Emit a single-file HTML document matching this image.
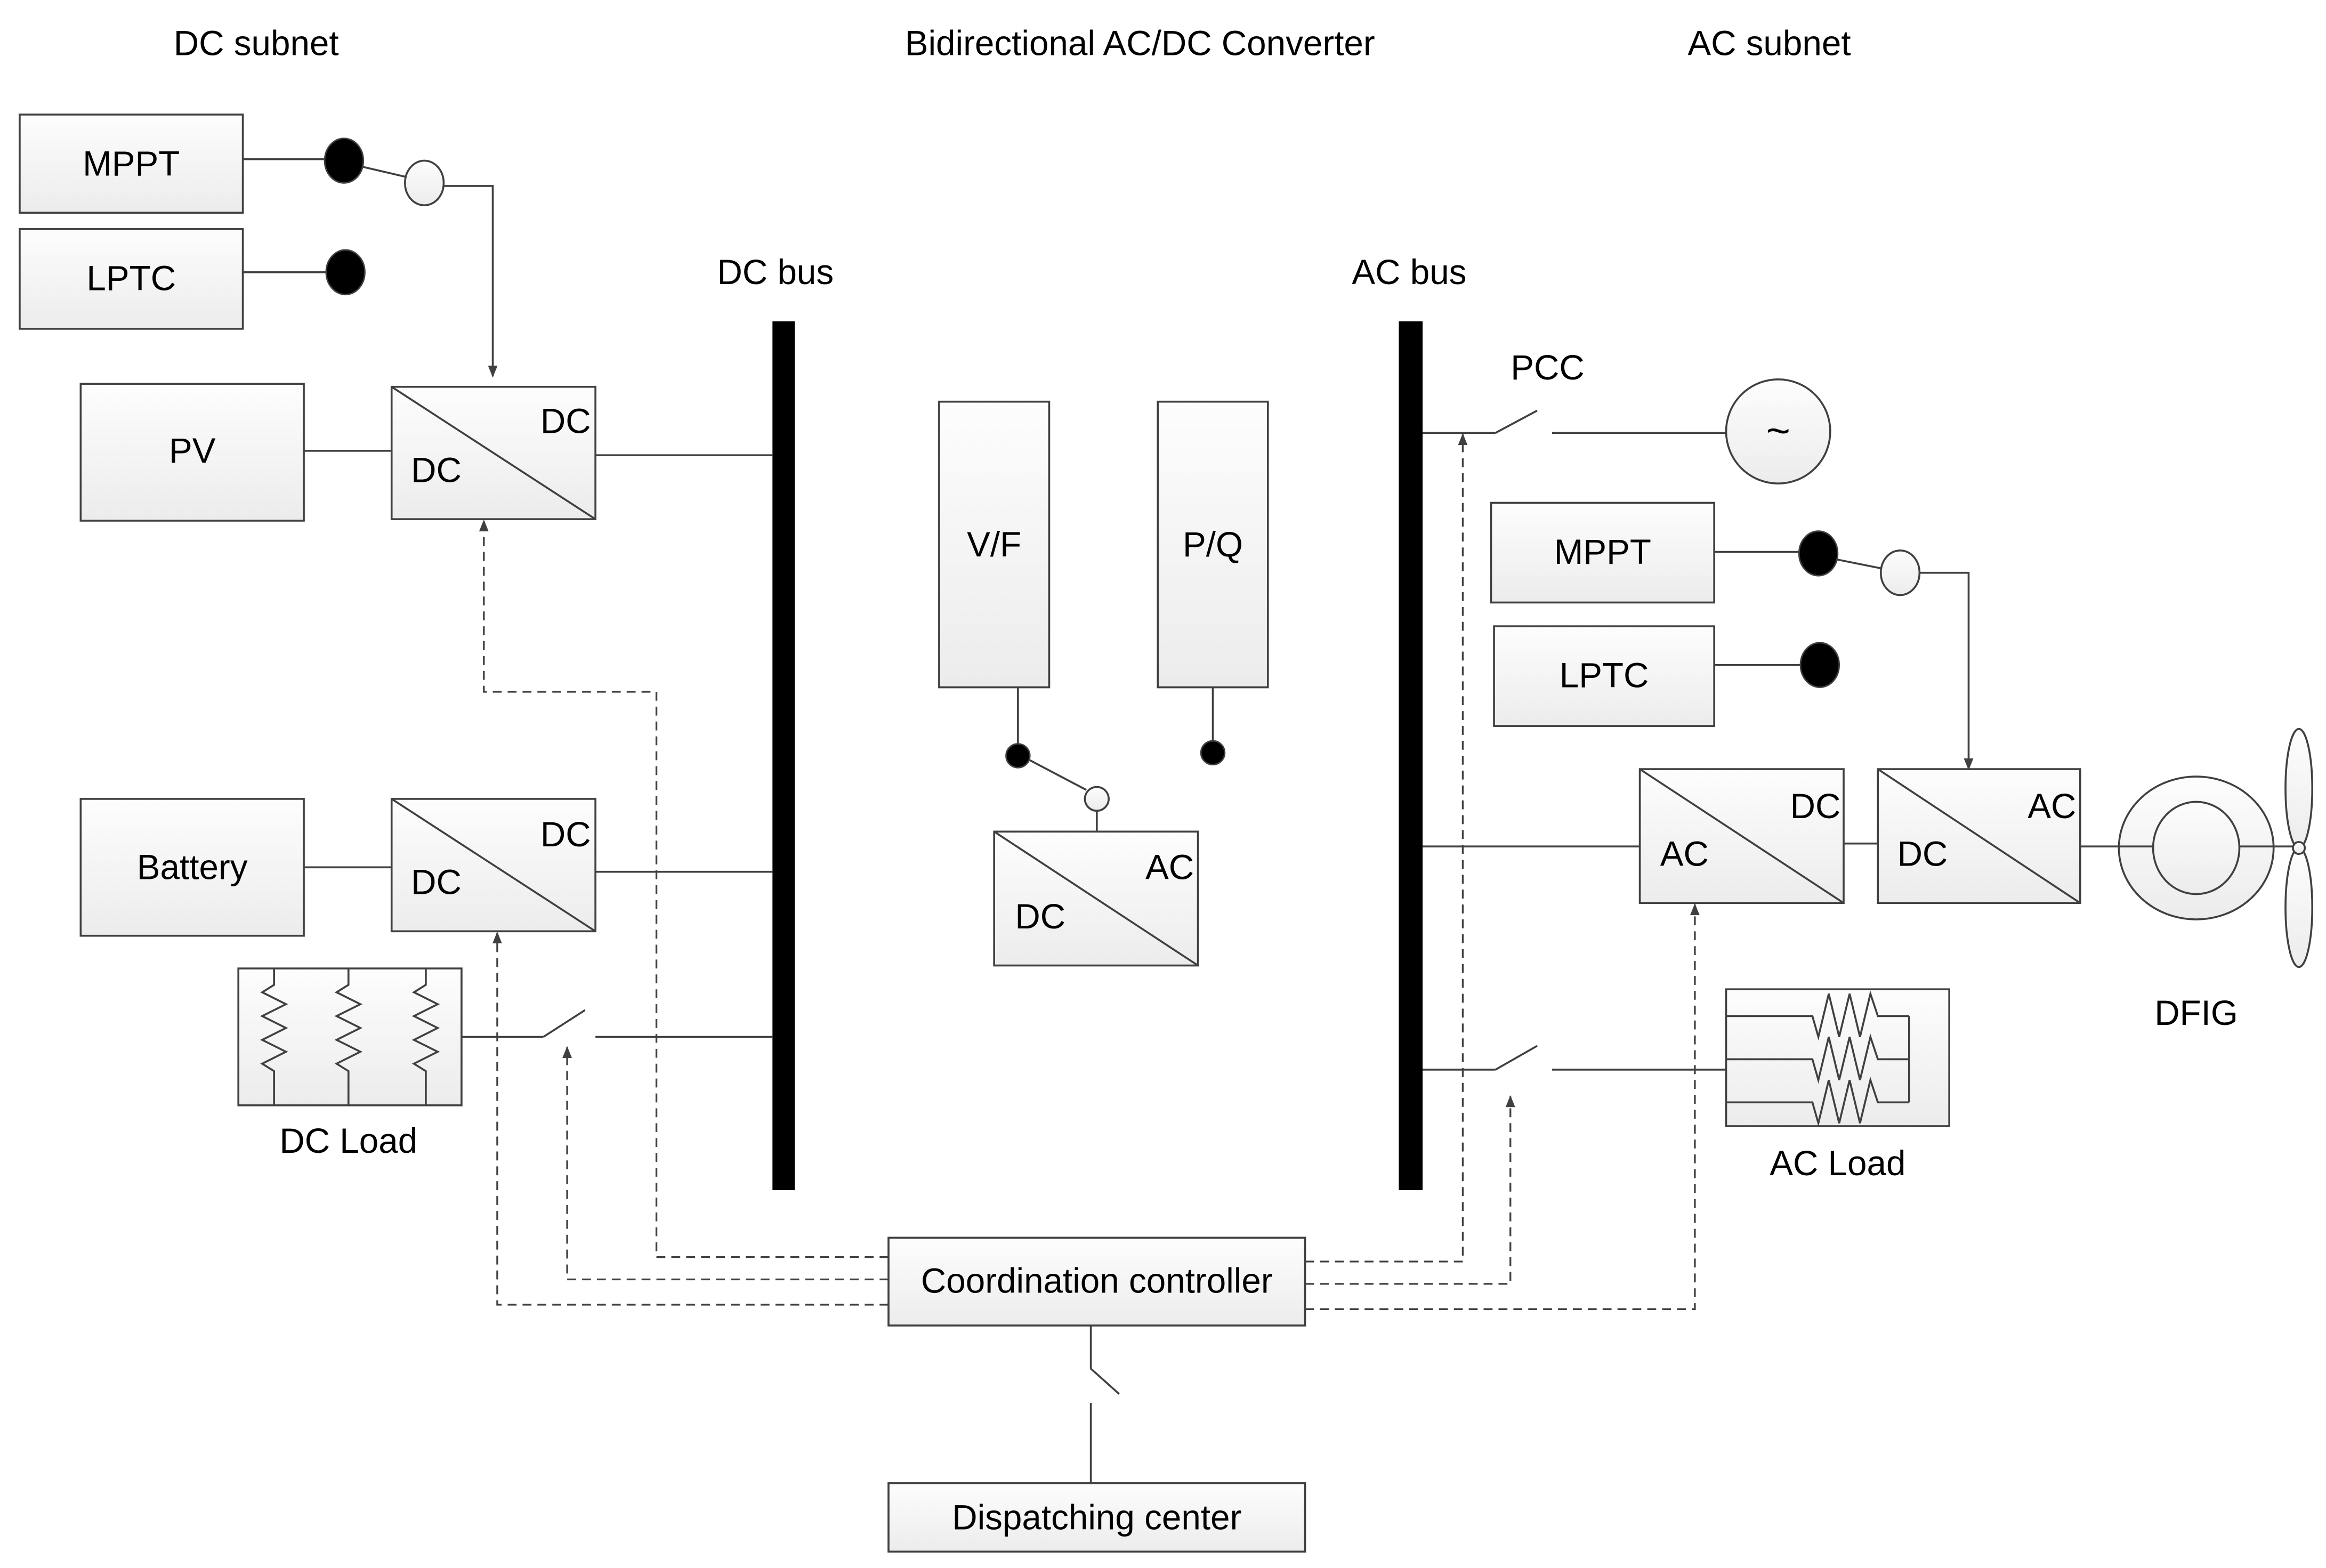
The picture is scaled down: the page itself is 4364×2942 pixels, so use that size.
<!DOCTYPE html>
<html><head><meta charset="utf-8"><style>
html,body{margin:0;padding:0;background:#fff;}
svg{display:block;}
text{font-family:"Liberation Sans","DejaVu Sans",sans-serif;fill:#000;}
</style></head><body>
<svg width="4364" height="2942" viewBox="0 0 1563 1054" xmlns="http://www.w3.org/2000/svg">
<defs>
<linearGradient id="g" x1="0" y1="0" x2="0" y2="1"><stop offset="0" stop-color="#fdfdfd"/><stop offset="1" stop-color="#ececec"/></linearGradient>
<marker id="ar" viewBox="0 0 10 10" refX="9" refY="5" markerWidth="8" markerHeight="8" orient="auto-start-reverse" markerUnits="userSpaceOnUse"><path d="M0,1 L10,5 L0,9 z" fill="#404040"/></marker>
</defs>
<g font-size="23.5" text-anchor="middle">
<text x="172" y="37">DC subnet</text>
<text x="766" y="37">Bidirectional AC/DC Converter</text>
<text x="1189" y="37">AC subnet</text>
<text x="521" y="191">DC bus</text>
<text x="947" y="191">AC bus</text>
<text x="1040" y="255">PCC</text>
</g>
<g stroke="#404040" stroke-width="1.3" fill="url(#g)">
<rect x="13" y="77" width="150" height="66"/>
<rect x="13" y="154" width="150" height="67"/>
<rect x="54" y="258" width="150" height="92"/>
<rect x="263" y="260" width="137" height="89"/>
<rect x="54" y="537" width="150" height="92"/>
<rect x="263" y="537" width="137" height="89"/>
<rect x="160" y="651" width="150" height="92"/>
<rect x="631" y="270" width="74" height="192"/>
<rect x="778" y="270" width="74" height="192"/>
<rect x="668" y="559" width="137" height="90"/>
<rect x="1002" y="338" width="150" height="67"/>
<rect x="1004" y="421" width="148" height="67"/>
<rect x="1102" y="517" width="137" height="90"/>
<rect x="1262" y="517" width="136" height="90"/>
<rect x="1160" y="665" width="150" height="92"/>
<rect x="597" y="832" width="280" height="59"/>
<rect x="597" y="997" width="280" height="46"/>
<circle cx="1195" cy="290" r="35"/>
<ellipse cx="1476" cy="570" rx="52" ry="48"/>
<ellipse cx="1476" cy="570" rx="29" ry="31"/>
<ellipse cx="1545" cy="530" rx="9" ry="40"/>
<ellipse cx="1545" cy="610" rx="9" ry="40"/>
<circle cx="1545" cy="570" r="4"/>
<ellipse cx="285" cy="123" rx="13" ry="15"/>
<ellipse cx="1277" cy="385" rx="13" ry="15"/>
<circle cx="737" cy="537" r="8"/>
</g>
<g fill="#000" stroke="#404040" stroke-width="1">
<ellipse cx="231" cy="108" rx="13" ry="15"/>
<ellipse cx="232" cy="183" rx="13" ry="15"/>
<ellipse cx="1222" cy="372" rx="13" ry="15"/>
<ellipse cx="1223" cy="447" rx="13" ry="15"/>
<circle cx="684" cy="508" r="8"/>
<circle cx="815" cy="506" r="8"/>
</g>
<rect x="519" y="216" width="15" height="584" fill="#000"/>
<rect x="940" y="216" width="16" height="584" fill="#000"/>
<g stroke="#404040" stroke-width="1.3" fill="none">
<line x1="263" y1="260" x2="400" y2="349"/>
<line x1="263" y1="537" x2="400" y2="626"/>
<line x1="668" y1="559" x2="805" y2="649"/>
<line x1="1102" y1="517" x2="1239" y2="607"/>
<line x1="1262" y1="517" x2="1398" y2="607"/>
<line x1="163" y1="107" x2="218" y2="107"/>
<line x1="243" y1="112" x2="273" y2="119"/>
<polyline points="298,125 331,125 331,253" marker-end="url(#ar)"/>
<line x1="163" y1="183" x2="219" y2="183"/>
<line x1="204" y1="303" x2="263" y2="303"/>
<line x1="400" y1="306" x2="519" y2="306"/>
<line x1="204" y1="583" x2="263" y2="583"/>
<line x1="400" y1="586" x2="519" y2="586"/>
<line x1="310" y1="697" x2="365" y2="697"/>
<line x1="365" y1="697" x2="393" y2="679"/>
<line x1="400" y1="697" x2="519" y2="697"/>
<line x1="684" y1="462" x2="684" y2="500"/>
<line x1="815" y1="462" x2="815" y2="498"/>
<line x1="692" y1="511" x2="730" y2="531"/>
<line x1="737" y1="545" x2="737" y2="559"/>
<line x1="956" y1="291" x2="1005" y2="291"/>
<line x1="1005" y1="291" x2="1033" y2="276"/>
<line x1="1043" y1="291" x2="1160" y2="291"/>
<line x1="1152" y1="371" x2="1209" y2="371"/>
<line x1="1234" y1="376" x2="1264" y2="382"/>
<polyline points="1290,385 1323,385 1323,517" marker-end="url(#ar)"/>
<line x1="1152" y1="447" x2="1210" y2="447"/>
<line x1="956" y1="569" x2="1102" y2="569"/>
<line x1="1239" y1="567" x2="1262" y2="567"/>
<line x1="1398" y1="569" x2="1447" y2="569"/>
<line x1="1505" y1="569" x2="1541" y2="569"/>
<line x1="956" y1="719" x2="1005" y2="719"/>
<line x1="1005" y1="719" x2="1033" y2="703"/>
<line x1="1043" y1="719" x2="1160" y2="719"/>
<line x1="733" y1="891" x2="733" y2="920"/>
<line x1="733" y1="920" x2="752" y2="937"/>
<line x1="733" y1="943" x2="733" y2="997"/>
<polyline points="184,651 184,662 176,667 192,675 176,683 192,691 176,699 192,707 176,715 184,720 184,743"/>
<polyline points="234,651 234,662 226,667 242,675 226,683 242,691 226,699 242,707 226,715 234,720 234,743"/>
<polyline points="286,651 286,662 278,667 294,675 278,683 294,691 278,699 294,707 278,715 286,720 286,743"/>
<polyline points="1160,683 1218,683 1222,697 1229,668 1236,697 1243,668 1250,697 1257,668 1262,683 1283,683"/>
<polyline points="1160,712 1218,712 1222,726 1229,697 1236,726 1243,697 1250,726 1257,697 1262,712 1283,712"/>
<polyline points="1160,741 1218,741 1222,755 1229,726 1236,755 1243,726 1250,755 1257,726 1262,741 1283,741"/>
<line x1="1283" y1="683" x2="1283" y2="741"/>
</g>
<g stroke="#404040" stroke-width="1.2" fill="none" stroke-dasharray="6,4">
<polyline points="597,845 441,845 441,465 325,465 325,350" marker-end="url(#ar)"/>
<polyline points="597,860 381,860 381,704" marker-end="url(#ar)"/>
<polyline points="597,877 334,877 334,627" marker-end="url(#ar)"/>
<polyline points="877,848 983,848 983,292" marker-end="url(#ar)"/>
<polyline points="877,863 1015,863 1015,737" marker-end="url(#ar)"/>
<polyline points="877,880 1139,880 1139,608" marker-end="url(#ar)"/>
</g>
<g font-size="23.5" text-anchor="middle">
<text x="88" y="118">MPPT</text>
<text x="88" y="195">LPTC</text>
<text x="129" y="311">PV</text>
<text x="380" y="291">DC</text>
<text x="293" y="324">DC</text>
<text x="129" y="591">Battery</text>
<text x="380" y="569">DC</text>
<text x="293" y="601">DC</text>
<text x="234" y="775">DC Load</text>
<text x="668" y="374">V/F</text>
<text x="815" y="374">P/Q</text>
<text x="786" y="591">AC</text>
<text x="699" y="624">DC</text>
<text x="1195" y="299" font-size="28">~</text>
<text x="1077" y="379">MPPT</text>
<text x="1078" y="462">LPTC</text>
<text x="1220" y="550">DC</text>
<text x="1132" y="582">AC</text>
<text x="1379" y="550">AC</text>
<text x="1292" y="582">DC</text>
<text x="1476" y="689">DFIG</text>
<text x="1235" y="790">AC Load</text>
<text x="737" y="869">Coordination controller</text>
<text x="737" y="1028">Dispatching center</text>
</g>
</svg>
</body></html>
